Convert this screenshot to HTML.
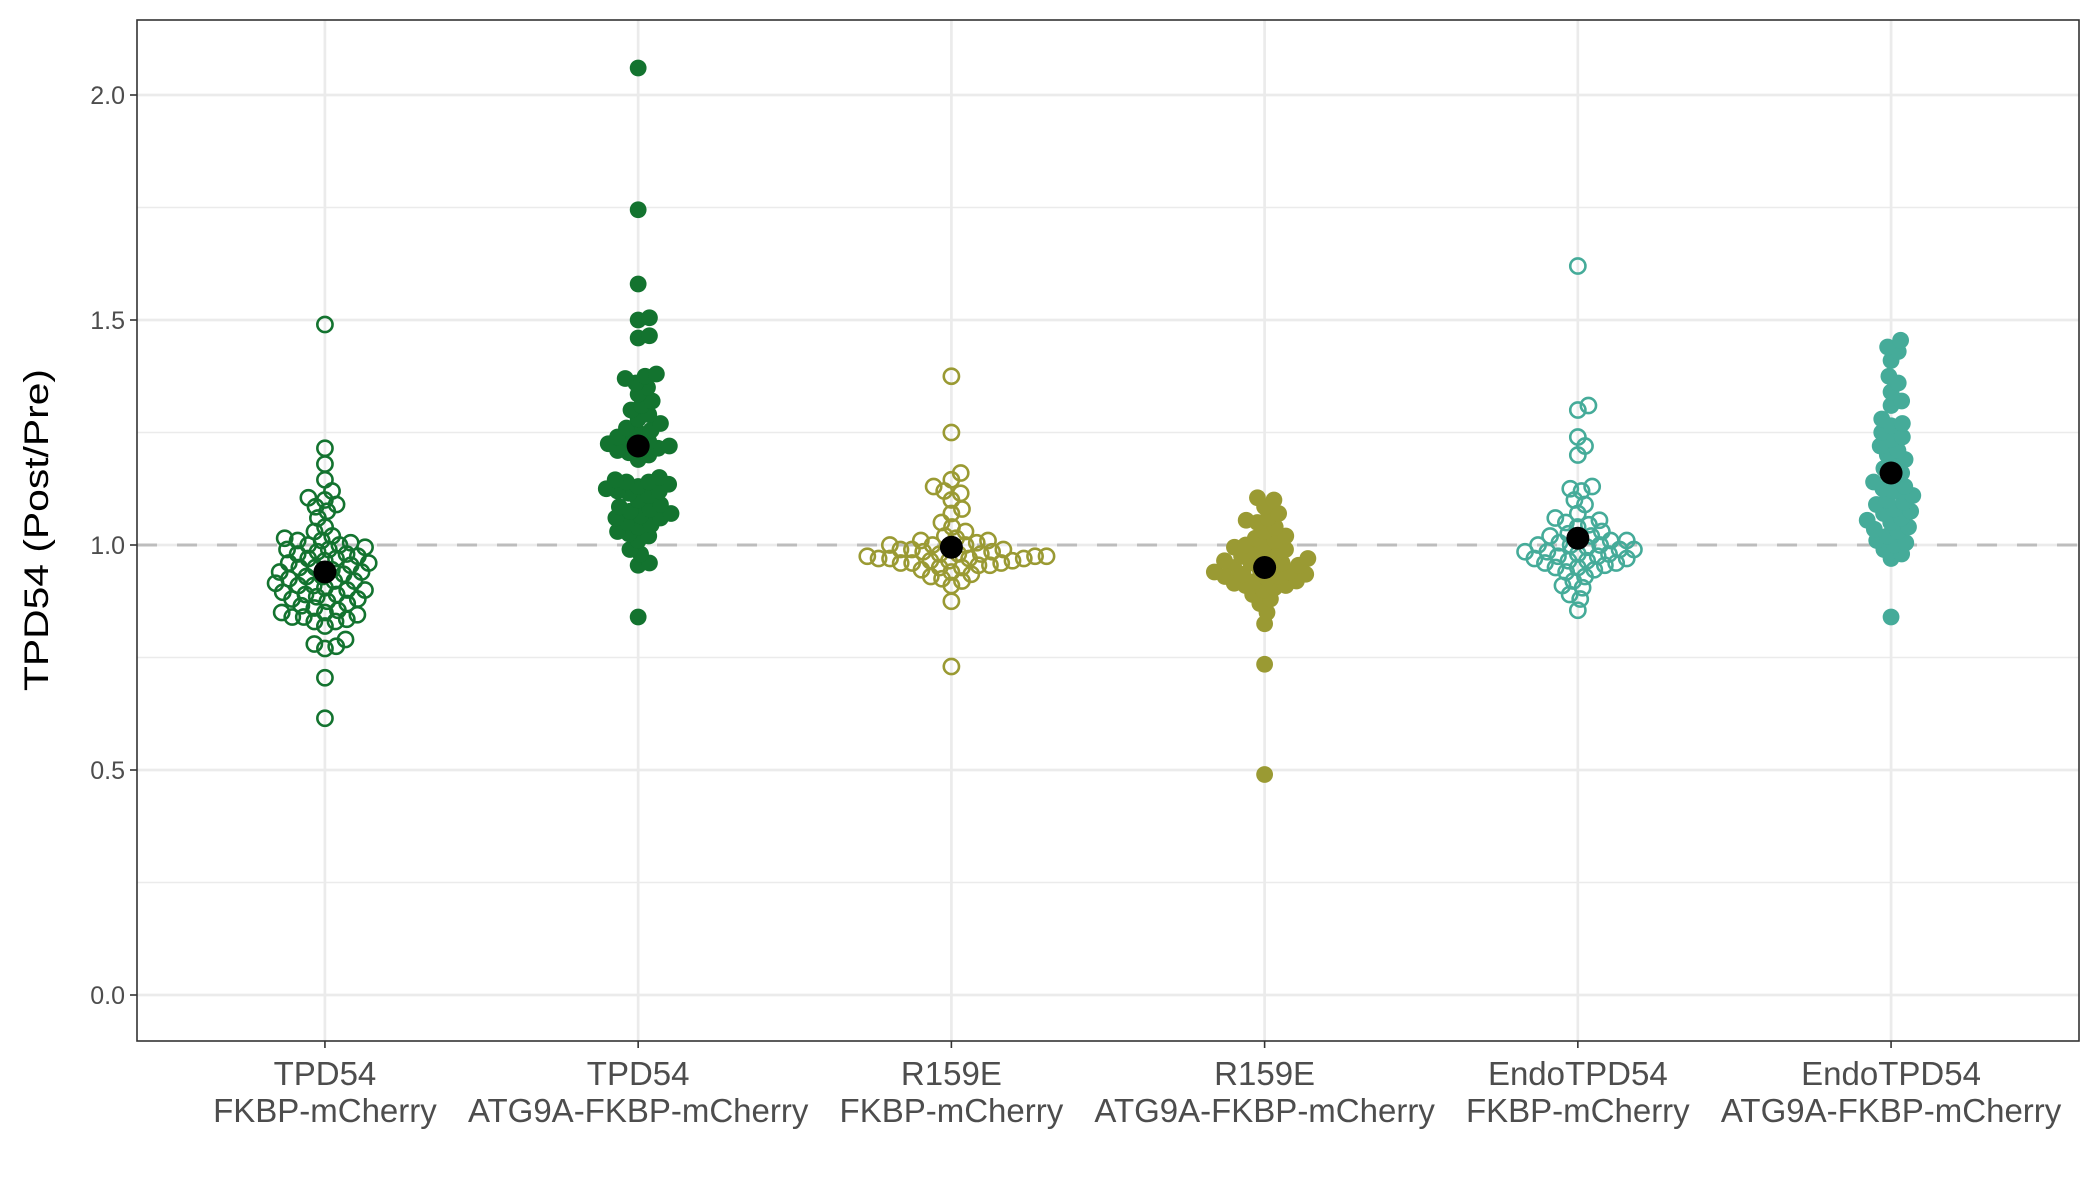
<!DOCTYPE html>
<html><head><meta charset="utf-8"><style>
html,body{margin:0;padding:0;background:#fff;}
svg{display:block;font-family:"Liberation Sans",sans-serif;}
</style></head><body>
<svg id="chart" width="2100" height="1200" viewBox="0 0 2100 1200" xmlns="http://www.w3.org/2000/svg">
<rect x="0" y="0" width="2100" height="1200" fill="#fff"/>
<g id="grid"></g>
<g id="marks"></g>
<g id="axes"></g>
<text transform="translate(48,530) rotate(-90)" text-anchor="middle" font-size="34" fill="#000" textLength="322" lengthAdjust="spacingAndGlyphs">TPD54 (Post/Pre)</text>
</svg>
<script>
const categoriesTop = ["TPD54","TPD54","R159E","R159E","EndoTPD54","EndoTPD54"];
const categoriesBottom = ["FKBP-mCherry","ATG9A-FKBP-mCherry","FKBP-mCherry","ATG9A-FKBP-mCherry","FKBP-mCherry","ATG9A-FKBP-mCherry"];
const yTicks = [0,0.5,1,1.5,2];
const yTickLabels = ["0.0","0.5","1.0","1.5","2.0"];
const yMinor = [0.25,0.75,1.25,1.75];
const groupMeans = [0.94,1.22,0.995,0.95,1.015,1.16];
const g1 = [1.49,1.215,1.18,1.145,1.12,1.105,1.10,1.09,1.085,1.075,1.06,1.04,1.03,1.02,1.015,1.01,1.01,1.005,1.0,1.0,0.995,0.99,0.99,0.985,0.98,0.98,0.975,0.97,0.97,0.965,0.96,0.96,0.955,0.95,0.95,0.945,0.94,0.94,0.935,0.93,0.93,0.925,0.92,0.92,0.915,0.91,0.91,0.905,0.90,0.90,0.895,0.89,0.89,0.885,0.88,0.88,0.875,0.87,0.865,0.86,0.855,0.85,0.85,0.845,0.84,0.84,0.835,0.83,0.83,0.82,0.79,0.78,0.775,0.77,0.705,0.615];
const g2 = [2.06,1.745,1.58,1.505,1.50,1.465,1.46,1.38,1.375,1.37,1.36,1.35,1.335,1.32,1.31,1.30,1.29,1.28,1.27,1.26,1.255,1.25,1.24,1.235,1.23,1.225,1.22,1.22,1.215,1.21,1.205,1.20,1.19,1.15,1.145,1.14,1.14,1.135,1.13,1.125,1.12,1.12,1.115,1.11,1.10,1.09,1.085,1.08,1.075,1.07,1.065,1.06,1.06,1.05,1.045,1.04,1.03,1.025,1.02,1.01,0.99,0.98,0.96,0.955,0.84];
const g3 = [1.375,1.25,1.16,1.145,1.13,1.12,1.115,1.10,1.08,1.07,1.05,1.04,1.03,1.02,1.015,1.01,1.01,1.005,1.0,1.0,1.0,0.995,0.99,0.99,0.99,0.985,0.985,0.98,0.98,0.98,0.975,0.975,0.975,0.97,0.97,0.97,0.97,0.965,0.965,0.965,0.96,0.96,0.96,0.955,0.955,0.95,0.95,0.945,0.94,0.935,0.93,0.925,0.92,0.91,0.875,0.73];
const g4 = [1.105,1.10,1.085,1.07,1.06,1.055,1.05,1.04,1.03,1.02,1.015,1.01,1.0,1.0,0.995,0.99,0.985,0.98,0.975,0.97,0.97,0.965,0.96,0.96,0.955,0.95,0.95,0.945,0.94,0.94,0.935,0.935,0.93,0.93,0.925,0.92,0.92,0.915,0.91,0.91,0.905,0.90,0.89,0.88,0.87,0.85,0.825,0.735,0.49];
const g5 = [1.62,1.31,1.30,1.24,1.22,1.20,1.13,1.125,1.12,1.10,1.09,1.07,1.06,1.055,1.05,1.045,1.04,1.03,1.025,1.02,1.02,1.015,1.01,1.01,1.005,1.0,1.0,1.0,0.995,0.99,0.99,0.985,0.985,0.98,0.98,0.975,0.975,0.97,0.97,0.965,0.965,0.96,0.96,0.955,0.95,0.95,0.945,0.94,0.93,0.92,0.91,0.905,0.89,0.88,0.855];
const g6 = [1.455,1.44,1.43,1.41,1.375,1.36,1.34,1.32,1.31,1.28,1.27,1.265,1.25,1.24,1.235,1.22,1.21,1.20,1.19,1.18,1.17,1.16,1.15,1.14,1.13,1.125,1.12,1.11,1.10,1.095,1.09,1.08,1.075,1.07,1.06,1.055,1.05,1.04,1.035,1.03,1.02,1.01,1.005,1.0,0.99,0.98,0.97,0.84];

const NS="http://www.w3.org/2000/svg";
const P={l:137,r:2079,t:20,b:1041};
const groups=[g1,g2,g3,g4,g5,g6];
const colors=["#13732f","#13732f","#9a9a33","#9a9a33","#45ab99","#45ab99"];
const filled=[false,true,false,true,false,true];
function xScale(i){return P.l+(P.r-P.l)*(i+0.6)/(categoriesTop.length-1+1.2);}
function yScale(v){return 995-450*v;}
function mk(tag,attrs,parent){const e=document.createElementNS(NS,tag);for(const k in attrs)e.setAttribute(k,attrs[k]);parent.appendChild(e);return e;}
const grid=document.getElementById('grid'),marks=document.getElementById('marks'),axes=document.getElementById('axes');
yMinor.forEach(v=>{const l=mk('line',{x1:P.l,x2:P.r,y1:yScale(v),y2:yScale(v),stroke:'#ebebeb','stroke-width':1.4},grid);

});
yTicks.forEach(v=>{const l=mk('line',{x1:P.l,x2:P.r,y1:yScale(v),y2:yScale(v),stroke:'#ebebeb','stroke-width':2.7},grid);

});
categoriesTop.forEach((c,i)=>{const l=mk('line',{x1:xScale(i),x2:xScale(i),y1:P.t,y2:P.b,stroke:'#ebebeb','stroke-width':2.7},grid);

});
const ref=mk('line',{x1:P.l,x2:P.r,y1:yScale(1),y2:yScale(1),stroke:'#bdbdbd','stroke-width':3,'stroke-dasharray':'20,20'},grid);



const R=7.6, D=11.5;
groups.forEach((vals,gi)=>{
  const cx=xScale(gi);
  const pts=vals.map(v=>({v,y:yScale(v)})).sort((a,b)=>b.y-a.y);
  const placed=[];
  pts.forEach(p=>{
    const cands=[0];
    placed.forEach(q=>{const dy=Math.abs(q.y-p.y);if(dy<D){const dx=Math.sqrt(D*D-dy*dy);cands.push(q.x+dx,q.x-dx);}});
    cands.sort((a,b)=>Math.abs(a)-Math.abs(b));
    let best=0;
    for(const c of cands){let ok=true;for(const q of placed){const dx=q.x-c,dy=q.y-p.y;if(dx*dx+dy*dy<D*D-0.01){ok=false;break;}}if(ok){best=c;break;}}
    p.x=best;placed.push(p);
  });
  const g=mk('g',{},marks);
  
  
  placed.forEach(p=>{
    const c=mk('circle',{cx:cx+p.x,cy:p.y,r:filled[gi]?R+0.8:R,fill:filled[gi]?colors[gi]:'none',stroke:colors[gi],'stroke-width':filled[gi]?0:2.6},g);
    
    
  });
  const m=mk('circle',{cx:cx,cy:yScale(groupMeans[gi]),r:11.5,fill:'#000'},marks);
  
  
});

const frame=mk('rect',{x:P.l,y:P.t,width:P.r-P.l,height:P.b-P.t,fill:'none',stroke:'#333','stroke-width':1.6},axes);


yTicks.forEach((v,i)=>{
  const t=mk('line',{x1:P.l-7,x2:P.l,y1:yScale(v),y2:yScale(v),stroke:'#333','stroke-width':1.6},axes);
  
  
  const tx=mk('text',{x:P.l-12,y:yScale(v)+9,'text-anchor':'end','font-size':25,fill:'#4d4d4d'},axes);
  tx.textContent=yTickLabels[i];
  
  
});
categoriesTop.forEach((c,i)=>{
  const x=xScale(i);
  const t=mk('line',{x1:x,x2:x,y1:P.b,y2:P.b+7,stroke:'#333','stroke-width':1.6},axes);
  
  
  const a=mk('text',{x:x,y:1085,'text-anchor':'middle','font-size':33,fill:'#4d4d4d'},axes);
  a.textContent=c;
  
  
  const b=mk('text',{x:x,y:1122,'text-anchor':'middle','font-size':33,fill:'#4d4d4d'},axes);
  b.textContent=categoriesBottom[i];
  
  
});
</script>
</body></html>
